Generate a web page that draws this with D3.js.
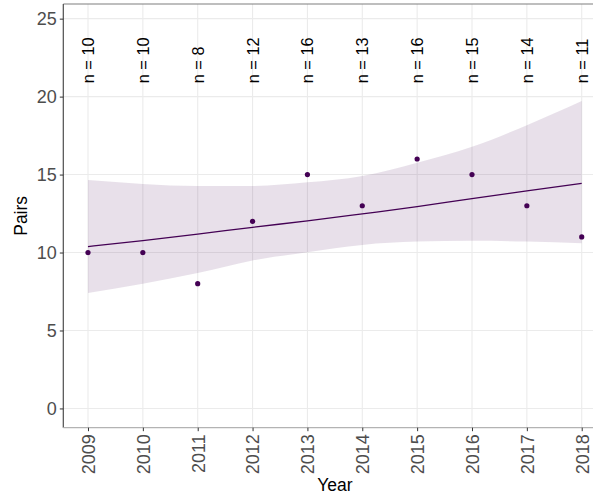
<!DOCTYPE html>
<html>
<head>
<meta charset="utf-8">
<script src="https://cdn.jsdelivr.net/npm/d3@7"></script>
<style>
  body { margin: 0; background: #fff; }
  text { font-family: "Liberation Sans", Arial, sans-serif; }
</style>
</head>
<body>
<script>
// Breeding pairs per year, with a fitted trend and its confidence band
var years = [2009, 2010, 2011, 2012, 2013, 2014, 2015, 2016, 2017, 2018];
var pairs = [10, 10, 8, 12, 15, 13, 16, 15, 13, 11];
var nLabels = [10, 10, 8, 12, 16, 13, 16, 15, 14, 11];

// trend and band at each year
var fit   = [10.38, 10.77, 11.18, 11.62, 12.03, 12.48, 12.94, 13.46, 13.95, 14.44];
var upper = [14.65, 14.40, 14.27, 14.27, 14.50, 14.91, 15.76, 16.78, 18.17, 19.72];
var lower = [7.40, 8.00, 8.68, 9.49, 10.02, 10.49, 10.70, 10.75, 10.70, 10.60];

var yTicks = [0, 5, 10, 15, 20, 25];

var w = 593, h = 500;
// panel edges (window.top is reserved, so use p* names)
var pLeft = 63.3, pTop = 4, pRight = 606.4, pBottom = 427.7;
var purple = "#440154";

var svg = d3.select("body").append("svg")
    .attr("width", w)
    .attr("height", h);

var x = d3.scaleLinear().domain([2008.55, 2018.45]).range([pLeft, pRight]);
var y = d3.scaleLinear().domain([-1.235, 25.94]).range([pBottom, pTop]);

var panel = svg.append("g");

// grid
panel.selectAll("line.gy").data(yTicks).enter().append("line")
    .attr("x1", pLeft).attr("x2", pRight)
    .attr("y1", function(d) { return y(d); })
    .attr("y2", function(d) { return y(d); })
    .attr("stroke", "#ebebeb").attr("stroke-width", 1.1);

panel.selectAll("line.gx").data(years).enter().append("line")
    .attr("y1", pTop).attr("y2", pBottom)
    .attr("x1", function(d) { return x(d); })
    .attr("x2", function(d) { return x(d); })
    .attr("stroke", "#ebebeb").attr("stroke-width", 1.1);

// confidence band
var band = years.map(function(yr, i) { return { x: yr, lo: lower[i], hi: upper[i] }; });
panel.append("path")
    .datum(band)
    .attr("fill", purple)
    .attr("fill-opacity", 0.12)
    .attr("d", d3.area()
        .curve(d3.curveMonotoneX)
        .x(function(d) { return x(d.x); })
        .y0(function(d) { return y(d.lo); })
        .y1(function(d) { return y(d.hi); }));

// trend line
panel.append("path")
    .datum(years.map(function(yr, i) { return { x: yr, v: fit[i] }; }))
    .attr("fill", "none")
    .attr("stroke", purple)
    .attr("stroke-width", 1.3)
    .attr("d", d3.line()
        .curve(d3.curveMonotoneX)
        .x(function(d) { return x(d.x); })
        .y(function(d) { return y(d.v); }));

// points
panel.selectAll("circle").data(years).enter().append("circle")
    .attr("cx", function(d) { return x(d); })
    .attr("cy", function(d, i) { return y(pairs[i]); })
    .attr("r", 2.6)
    .attr("fill", purple);

// n labels, read upward, starting at the same height
panel.selectAll("text.n").data(years).enter().append("text")
    .attr("transform", function(d) { return "translate(" + x(d) + "," + y(20.86) + ") rotate(-90)"; })
    .attr("text-anchor", "start")
    .attr("dominant-baseline", "central")
    .attr("font-size", 16.3)
    .attr("fill", "#000")
    .text(function(d, i) { return "n = " + nLabels[i]; });

// top border
svg.append("line")
    .attr("x1", pLeft).attr("x2", w)
    .attr("y1", pTop).attr("y2", pTop)
    .attr("stroke", "#7f7f7f").attr("stroke-width", 1.2);

// y axis
var yAxis = svg.append("g")
    .attr("transform", "translate(" + pLeft + ",0)")
    .call(d3.axisLeft(y).tickValues(yTicks).tickSize(3.5).tickPadding(3).tickFormat(d3.format("d")));
yAxis.select(".domain").attr("stroke", "#4d4d4d").attr("stroke-width", 1.2)
    .attr("d", "M0," + pTop + "V" + pBottom);
yAxis.selectAll(".tick line").attr("stroke", "#333");
yAxis.selectAll(".tick text")
    .attr("font-size", 18)
    .attr("fill", "#4d4d4d")
    .attr("font-family", "Liberation Sans, Arial, sans-serif");

// x axis
var xAxis = svg.append("g")
    .attr("transform", "translate(0," + pBottom + ")")
    .call(d3.axisBottom(x).tickValues(years).tickSize(3.5).tickFormat(d3.format("d")));
xAxis.select(".domain").attr("stroke", "#b3b3b3").attr("stroke-width", 1.2)
    .attr("d", "M" + pLeft + ",0H" + pRight);
xAxis.selectAll(".tick line").attr("stroke", "#333");
xAxis.selectAll(".tick text")
    .attr("font-size", 18)
    .attr("fill", "#4d4d4d")
    .attr("font-family", "Liberation Sans, Arial, sans-serif")
    .attr("transform", "rotate(-90)")
    .attr("text-anchor", "end")
    .attr("x", -6.5)
    .attr("y", 0)
    .attr("dy", "0.35em");

// axis titles
svg.append("text")
    .attr("x", (pLeft + pRight) / 2)
    .attr("y", 491)
    .attr("text-anchor", "middle")
    .attr("font-size", 17.5)
    .attr("fill", "#000")
    .text("Year");

svg.append("text")
    .attr("transform", "translate(27," + (pTop + pBottom) / 2 + ") rotate(-90)")
    .attr("text-anchor", "middle")
    .attr("font-size", 17.5)
    .attr("fill", "#000")
    .text("Pairs");
</script>
</body>
</html>
